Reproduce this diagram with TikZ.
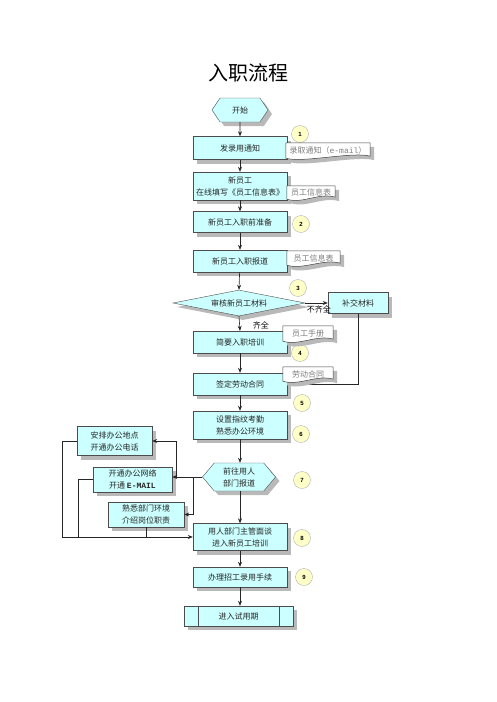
\documentclass[tikz,border=0pt]{standalone}
\usepackage{fontspec}
\setmainfont{Noto Sans CJK SC}
\newfontfamily\monofont{Liberation Mono}
\newfontfamily\numfont{Liberation Sans}
\usetikzlibrary{positioning,shapes.geometric,shapes.symbols,shadows,arrows.meta}

\pgfdeclarelayer{docback}
\pgfdeclarelayer{front}
\pgfsetlayers{main,docback,front}

\definecolor{boxcyan}{RGB}{204,255,255}
\definecolor{numyellow}{RGB}{255,255,200}

% paper note with a wavy bottom, drawn behind the named text node
\newcommand\docshape[1]{%
  \begin{pgfonlayer}{docback}
    \fill[gray!55] ([shift={(4pt,-4pt)}]#1.north west) -- ([shift={(4pt,-4pt)}]#1.north east)
      -- ([shift={(4pt,-2pt)}]#1.south east) .. controls +(-16pt,5pt) and +(16pt,-5pt) .. ([shift={(4pt,-4pt)}]#1.south west) -- cycle;
    \draw[draw=black!75, fill=white, line width=0.5pt] (#1.north west) -- (#1.north east)
      -- ([yshift=2pt]#1.south east) .. controls +(-16pt,5pt) and +(16pt,-5pt) .. (#1.south west) -- cycle;
  \end{pgfonlayer}}

\begin{document}
\begin{tikzpicture}[x=1pt, y=-1pt, >={Stealth[length=5pt,width=4pt]}]
    \tikzset{module/.style={draw=black!70, fill=boxcyan, text=black!85, align=center, minimum width=94pt, minimum height=22pt, inner sep=1pt, font=\fontsize{8}{12}\selectfont, drop shadow={shadow xshift=4pt, shadow yshift=-4pt, fill=gray!55, opacity=1}},
             hexa/.style={module, shape=signal, signal to=west and east},
             check/.style={module, shape=diamond, aspect=5.2, inner sep=0pt, minimum width=132pt, minimum height=26pt},
             docnote/.style={text=black!50, inner sep=1pt, font=\fontsize{8}{10}\selectfont},
             num/.style={circle, draw=gray!60, fill=numyellow, minimum size=17pt, inner sep=0pt, font=\numfont\fontsize{6}{6}\selectfont\bfseries},
             tag/.style={inner sep=1pt, font=\fontsize{8}{10}\selectfont},
             flow/.style={->, draw=black!85, line width=0.6pt},
             link/.style={draw=black!85, line width=0.6pt}}
    \useasboundingbox (0,0) rectangle (496,702);

    \node[font=\fontsize{20}{24}\selectfont] (title) at (248,73) {入职流程};

    % Main column
    \node[hexa, minimum width=56pt, minimum height=24pt, signal pointer angle=112] (start) at (240,110) {开始};
    \node[module, minimum height=23pt] (tongzhi)  at (240,148) {发录用通知};
    \node[module, minimum height=28pt] (tianxie)  at (240,186) {新员工\\在线填写《员工信息表》};
    \node[module, minimum height=21pt] (zhunbei)  at (240,222) {新员工入职前准备};
    \node[module]                      (baodao)   at (240,261) {新员工入职报道};
    \node[check]                       (shenhe)   at (239,303) {审核新员工材料};
    \node[module, minimum width=60pt, minimum height=21pt] (buchong) at (358,303) {补交材料};
    \node[module]                      (peixun)   at (240,342) {简要入职培训};
    \node[module]                      (hetong)   at (240,384) {签定劳动合同};
    \node[module, minimum height=28pt] (kaoqin)   at (240,425) {设置指纹考勤\\熟悉办公环境};
    \node[hexa, minimum width=73pt, minimum height=28pt, signal pointer angle=100] (qianwang) at (239,477) {前往用人\\部门报道};
    \node[module, minimum height=27pt] (miantan)  at (240,537) {用人部门主管面谈\\进入新员工培训};
    \node[module, minimum height=20pt] (shouxu)   at (240,577) {办理招工录用手续};
    \node[module, minimum width=109pt, minimum height=20pt] (shiyong) at (238.5,616) {进入试用期};
    \draw[draw=black!70] ([xshift=14pt]shiyong.north west) -- ([xshift=14pt]shiyong.south west);
    \draw[draw=black!70] ([xshift=-14pt]shiyong.north east) -- ([xshift=-14pt]shiyong.south east);

    % Side tasks
    \node[module, minimum width=75pt, minimum height=29pt] (anpai)   at (114.5,441) {安排办公地点\\开通办公电话};
    \node[module, minimum width=79pt, minimum height=25pt] (wangluo) at (132.5,479.5) {开通办公网络\\开通 {\monofont\bfseries E-MAIL}};
    \node[module, minimum width=76pt, minimum height=25pt] (shuxi)   at (146,514.5) {熟悉部门环境\\介绍岗位职责};

    % Documents
    \begin{pgfonlayer}{front}
    \node[docnote, minimum width=84pt, minimum height=15pt] (doc1) at (328,150.5) {录取通知（{\monofont e-mail}）};
    \node[docnote, minimum width=48pt, minimum height=13pt] (doc2) at (311,192.5) {员工信息表};
    \node[docnote, minimum width=53pt, minimum height=14pt] (doc3) at (313.5,258) {员工信息表};
    \node[docnote, minimum width=50pt, minimum height=15pt] (doc4) at (308,333.5) {员工手册};
    \node[docnote, minimum width=50pt, minimum height=14pt] (doc5) at (308,374) {劳动合同};
    \end{pgfonlayer}
    \docshape{doc1}
    \docshape{doc2}
    \docshape{doc3}
    \docshape{doc4}
    \docshape{doc5}

    % Step numbers
    \node[num] (n1) at (300,134) {1};
    \node[num] (n2) at (301,224) {2};
    \node[num] (n3) at (298,288) {3};
    \node[num] (n4) at (300,353) {4};
    \node[num] (n5) at (302,403) {5};
    \node[num] (n6) at (301,434) {6};
    \node[num] (n7) at (302,480) {7};
    \node[num] (n8) at (302,538) {8};
    \node[num] (n9) at (304,577) {9};

    % Main flow
    \draw[flow] (start) -- (tongzhi);
    \draw[flow] (tongzhi) -- (tianxie);
    \draw[flow] (tianxie) -- (zhunbei);
    \draw[flow] (zhunbei) -- (baodao);
    \draw[flow] (baodao) -- (shenhe.north);
    \draw[flow] (shenhe.east) -- node[tag, pos=0.6, below=1pt]{不齐全} (buchong.west);
    \draw[flow] (shenhe.south) -- node[tag, pos=0.6, right=12pt]{齐全} (peixun.north);
    \draw[flow] (buchong.south) |- (hetong.east);
    \draw[flow] (peixun) -- (hetong);
    \draw[flow] (hetong) -- (kaoqin);
    \draw[flow] (kaoqin) -- (kaoqin.south |- qianwang.north);
    \draw[flow] (qianwang.south -| miantan.north) -- (miantan.north);
    \draw[flow] (miantan) -- (shouxu);
    \draw[flow] (shouxu) -- (shouxu.south |- shiyong.north);

    % Branch to the side tasks and back
    \coordinate (ja) at (176,477);
    \coordinate (jb) at (193,477);
    \coordinate (la) at (62,537);
    \coordinate (lb) at (78,537);
    \draw[flow] (qianwang.west) -- (qianwang.west -| wangluo.east);
    \draw[flow] (ja) |- (anpai.east);
    \draw[flow] (jb) |- (shuxi.east);
    \draw[flow] (anpai.west) -| (la) -- (miantan.west);
    \draw[link] (wangluo.west) -| (lb);
    \draw[link] (shuxi.south) -- (shuxi.south |- la);
\end{tikzpicture}
\end{document}
